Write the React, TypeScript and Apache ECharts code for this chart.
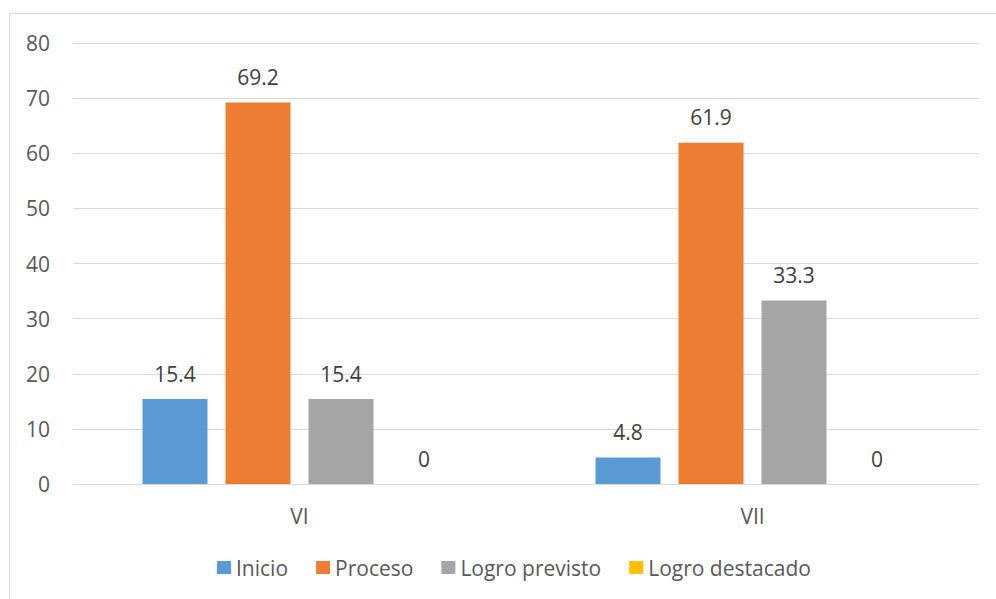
import React, { useEffect, useRef } from "react";
import * as echarts from "echarts";

const categories = ["VI", "VII"];
const seriesNames = ["Inicio", "Proceso", "Logro previsto", "Logro destacado"];
const inicio = [15.4, 4.8];
const proceso = [69.2, 61.9];
const logroPrevisto = [15.4, 33.3];
const logroDestacado = [0, 0];
const colors = ["#5b9bd5", "#ed7d31", "#a5a5a5", "#ffc000"];

export default function App() {
  const ref = useRef<HTMLDivElement>(null);
  useEffect(() => {
    if (!ref.current) return;
    const chart = echarts.init(ref.current, undefined, { renderer: "svg" });
    const font = "'Open Sans', sans-serif";
    const values = [inicio, proceso, logroPrevisto, logroDestacado];
    chart.setOption({
      animation: false,
      backgroundColor: "#ffffff",
      textStyle: { fontFamily: font },
      graphic: [
        {
          type: "rect",
          shape: { x: 9.5, y: 13.5, width: 1100, height: 1000 },
          style: { fill: "none", stroke: "#d9d9d9", lineWidth: 1 },
          silent: true,
        },
      ],
      grid: { left: 73, right: 17, top: 43, bottom: 115 },
      legend: {
        data: seriesNames,
        bottom: 16,
        left: 212,
        itemWidth: 14,
        itemHeight: 13,
        itemGap: 28,
        icon: "rect",
        textStyle: { fontFamily: font, fontSize: 21, color: "#595959" },
      },
      xAxis: {
        type: "category",
        data: categories,
        axisLine: { lineStyle: { color: "#d9d9d9" } },
        axisTick: { show: false },
        axisLabel: { fontFamily: font, fontSize: 21, color: "#595959", margin: 21 },
      },
      yAxis: {
        type: "value",
        min: 0,
        max: 80,
        interval: 10,
        axisLine: { show: false },
        axisTick: { show: false },
        splitLine: { lineStyle: { color: "#d9d9d9" } },
        axisLabel: { fontFamily: font, fontSize: 21, color: "#595959", margin: 23 },
      },
      series: seriesNames.map((name, i) => ({
        name,
        type: "bar",
        data: values[i],
        barWidth: 65,
        barGap: "27.7%",
        itemStyle: { color: colors[i] },
        label: {
          show: true,
          position: "top",
          distance: 15,
          fontFamily: font,
          fontSize: 21,
          color: "#404040",
        },
      })),
    });
    return () => chart.dispose();
  }, []);
  return (
    <div
      ref={ref}
      style={{ position: "absolute", left: 0, top: 0, width: 996, height: 599 }}
    />
  );
}
